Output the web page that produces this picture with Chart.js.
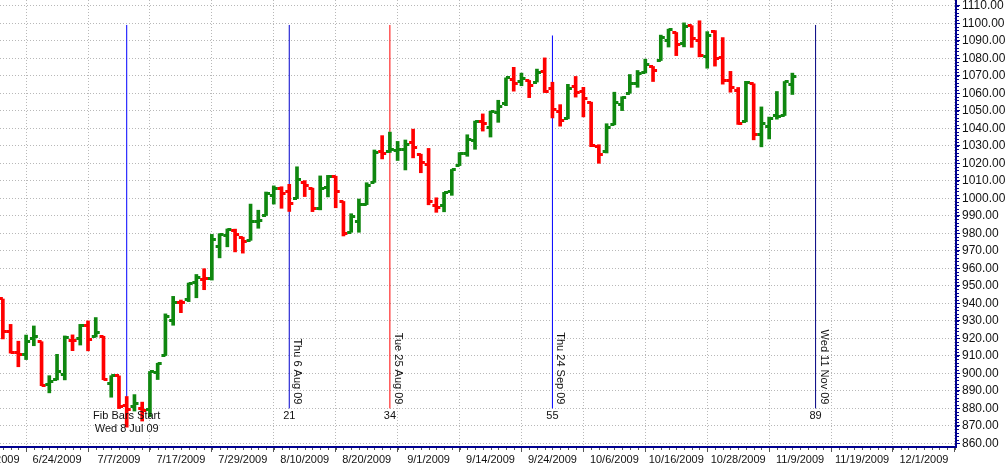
<!DOCTYPE html>
<html>
<head>
<meta charset="utf-8">
<title>Fib bars</title>
<script src="https://cdn.jsdelivr.net/npm/chart.js@4/dist/chart.umd.min.js"></script>
<style>
    html, body { margin: 0; padding: 0; background: #fff; }
    canvas { display: block; }
</style>
</head>
<body>
<canvas id="myChart" width="1005" height="467"></canvas>
<script>
// daily bars, 15 Jun 2009 .. 6 Nov 2009 (bar 0 = Wed 8 Jul 09)
const firstBar = -16;
const dates = ['6/15', '6/16', '6/17', '6/18', '6/19', '6/22', '6/23', '6/24', '6/25', '6/26',
    '6/29', '6/30', '7/1', '7/2', '7/6', '7/7', '7/8', '7/9', '7/10', '7/13',
    '7/14', '7/15', '7/16', '7/17', '7/20', '7/21', '7/22', '7/23', '7/24', '7/27',
    '7/28', '7/29', '7/30', '7/31', '8/3', '8/4', '8/5', '8/6', '8/7', '8/10',
    '8/11', '8/12', '8/13', '8/14', '8/17', '8/18', '8/19', '8/20', '8/21', '8/24',
    '8/25', '8/26', '8/27', '8/28', '8/31', '9/1', '9/2', '9/3', '9/4', '9/8',
    '9/9', '9/10', '9/11', '9/14', '9/15', '9/16', '9/17', '9/18', '9/21', '9/22',
    '9/23', '9/24', '9/25', '9/28', '9/29', '9/30', '10/1', '10/2', '10/5', '10/6',
    '10/7', '10/8', '10/9', '10/12', '10/13', '10/14', '10/15', '10/16', '10/19', '10/20',
    '10/21', '10/22', '10/23', '10/26', '10/27', '10/28', '10/29', '10/30', '11/2', '11/3',
    '11/4', '11/5', '11/6'];

const opens = [942.5, 923.7, 911.9, 910.9, 920.0, 918.1, 893.5, 896.3, 899.5, 918.8,
    919.9, 927.2, 920.8, 921.2, 894.3, 898.6, 881.9, 881.3, 880.0, 879.6,
    900.8, 910.2, 930.2, 940.6, 942.1, 952.0, 953.4, 954.1, 972.2, 978.6,
    981.5, 977.7, 976.0, 986.8, 990.2, 1001.4, 1005.4, 1004.1, 999.8, 1008.9,
    1005.8, 994.0, 1005.9, 1012.2, 998.2, 980.6, 986.9, 996.4, 1009.1, 1026.6,
    1026.6, 1027.4, 1027.8, 1031.6, 1025.2, 1019.5, 996.1, 996.1, 1003.8, 1018.7,
    1025.4, 1033.0, 1043.9, 1040.2, 1049.0, 1054.0, 1067.9, 1066.6, 1067.1, 1066.4,
    1072.7, 1062.6, 1049.5, 1045.4, 1063.7, 1061.0, 1054.9, 1029.7, 1026.9, 1042.0,
    1053.7, 1060.0, 1065.3, 1071.6, 1075.0, 1078.7, 1090.4, 1094.7, 1088.2, 1098.6,
    1090.4, 1081.0, 1095.0, 1080.4, 1067.5, 1061.8, 1043.7, 1065.4, 1036.2, 1040.9,
    1047.3, 1047.3, 1065.0];

const highs = [942.5, 928.0, 918.4, 921.9, 927.1, 918.1, 898.7, 910.9, 921.4, 922.0,
    928.0, 930.0, 931.9, 921.2, 898.7, 898.6, 886.8, 887.9, 883.6, 901.1,
    905.8, 934.0, 944.0, 941.9, 951.6, 956.5, 959.8, 979.4, 979.8, 982.5,
    982.4, 977.8, 996.7, 993.2, 1003.6, 1007.1, 1006.6, 1008.0, 1018.0, 1010.1,
    1005.8, 1012.8, 1013.1, 1012.6, 998.2, 991.2, 999.6, 1008.9, 1027.6, 1035.8,
    1037.8, 1032.5, 1033.3, 1039.5, 1025.2, 1028.5, 1000.3, 1003.4, 1016.5, 1026.1,
    1036.3, 1044.1, 1048.2, 1049.7, 1056.0, 1068.8, 1074.8, 1071.5, 1067.3, 1073.8,
    1080.2, 1066.3, 1053.5, 1065.1, 1069.6, 1063.4, 1054.9, 1030.6, 1042.6, 1060.6,
    1058.0, 1070.7, 1073.0, 1079.5, 1075.3, 1093.2, 1096.6, 1094.7, 1100.2, 1098.6,
    1101.4, 1095.2, 1095.8, 1091.8, 1072.5, 1063.3, 1066.8, 1065.4, 1052.2, 1046.4,
    1061.0, 1066.7, 1071.5];

const lows = [919.7, 911.6, 903.8, 907.9, 915.8, 893.0, 888.9, 896.3, 896.3, 913.0,
    916.2, 912.9, 920.8, 896.4, 886.4, 879.9, 869.3, 878.5, 872.8, 875.3,
    896.5, 910.2, 927.5, 934.7, 941.0, 943.2, 947.8, 953.3, 966.0, 972.3,
    969.4, 968.7, 976.0, 982.9, 990.2, 996.7, 994.3, 992.5, 999.8, 1001.0,
    992.4, 993.4, 1000.8, 994.6, 978.5, 980.6, 980.6, 996.4, 1009.1, 1022.5,
    1026.2, 1021.6, 1016.2, 1023.1, 1014.6, 996.3, 992.0, 992.3, 1001.7, 1018.7,
    1024.0, 1028.0, 1038.4, 1035.0, 1043.4, 1052.9, 1061.2, 1064.3, 1057.5, 1066.4,
    1060.4, 1045.9, 1041.2, 1045.4, 1057.8, 1046.5, 1029.5, 1020.0, 1025.9, 1042.0,
    1050.1, 1060.0, 1063.4, 1071.6, 1066.7, 1078.7, 1086.4, 1081.5, 1086.5, 1086.2,
    1080.8, 1074.3, 1075.5, 1065.2, 1060.6, 1042.2, 1043.7, 1033.4, 1029.4, 1033.9,
    1045.2, 1047.3, 1059.3];

const closes = [923.7, 912.0, 910.7, 918.4, 921.2, 893.0, 895.1, 900.9, 920.3, 918.9,
    927.2, 919.3, 923.3, 896.4, 898.7, 881.0, 879.6, 882.7, 879.1, 901.1,
    905.8, 932.7, 940.7, 940.4, 951.1, 954.6, 954.1, 976.3, 979.3, 982.2,
    979.6, 975.2, 986.8, 987.5, 1002.6, 1005.7, 1002.7, 997.1, 1010.5, 1007.1,
    994.4, 1005.8, 1012.7, 1004.1, 979.7, 989.7, 996.5, 1007.4, 1026.1, 1025.6,
    1028.0, 1028.1, 1031.0, 1028.9, 1020.6, 998.0, 994.8, 1003.2, 1016.4, 1025.4,
    1033.4, 1044.1, 1042.7, 1049.3, 1052.6, 1068.8, 1065.5, 1068.3, 1064.7, 1071.7,
    1060.9, 1050.8, 1044.4, 1063.0, 1060.6, 1057.1, 1029.9, 1025.2, 1040.5, 1054.7,
    1057.6, 1065.5, 1071.5, 1076.2, 1073.2, 1092.0, 1096.6, 1087.7, 1097.9, 1091.1,
    1081.4, 1092.9, 1079.6, 1067.0, 1063.4, 1042.6, 1066.1, 1036.2, 1042.9, 1045.4,
    1046.5, 1066.6, 1069.3];

// Fibonacci day markers
const fibBars = [0, 21, 34, 55, 89];
const fibNames = ['Fib Bars Start', '21', '34', '55', '89'];
const fibDays = ['Wed 8 Jul 09', 'Thu 6 Aug 09', 'Tue 25 Aug 09', 'Thu 24 Sep 09', 'Wed 11 Nov 09'];
const fibLow = [880, 880, 880, 880, 880];
const fibHigh = [1099, 1099, 1099, 1093, 1099];
const fibColors = ['#0000ff', '#0000cc', '#ff0000', '#0000ff', '#000080'];

// axis ticks
const xTickBars = [-17, -9, -1, 7, 15, 23, 31, 39, 47, 55, 63, 71, 79, 87, 95, 103];
const xTickLabels = ['6/12/2009', '6/24/2009', '7/7/2009', '7/17/2009', '7/29/2009', '8/10/2009',
    '8/20/2009', '9/1/2009', '9/14/2009', '9/24/2009', '10/6/2009', '10/16/2009',
    '10/28/2009', '11/9/2009', '11/19/2009', '12/1/2009'];
const yTickFirst = 860;
const yTickLast = 1110;
const yTickStep = 10;
const yMinorStep = 2;

const UP = '#0f870f';
const DOWN = '#ff0000';
const AXIS = '#000090';
const FONT = '"Liberation Sans", Arial, sans-serif';

function tickImage(color, side) {
    const c = document.createElement('canvas');
    c.width = 10;
    c.height = 3;
    const ctx = c.getContext('2d');
    ctx.fillStyle = color;
    if (side == 'left') {
        ctx.fillRect(1, 0, 4, 3);
    } else {
        ctx.fillRect(5, 0, 4, 3);
    }
    return c;
}

const imgs = {
    upL: tickImage(UP, 'left'), upR: tickImage(UP, 'right'),
    dnL: tickImage(DOWN, 'left'), dnR: tickImage(DOWN, 'right')
};

// colour: close against the previous close
const barUp = closes.map((c, k) => k == 0 ? c >= opens[0] : c >= closes[k - 1]);
const barX = dates.map((d, k) => firstBar + k);

const datasets = [];

fibBars.forEach((b, k) => {
    datasets.push({
        type: 'line',
        data: [{ x: b, y: fibLow[k] }, { x: b, y: fibHigh[k] }],
        borderColor: fibColors[k],
        borderWidth: 1,
        pointRadius: 0,
        order: 5
    });
});

datasets.push({
    type: 'bar',
    data: barX.map((x, k) => ({ x: x, y: [lows[k], highs[k]] })),
    backgroundColor: barUp.map(u => u ? UP : DOWN),
    barThickness: 3,
    order: 3
});

datasets.push({
    type: 'scatter',
    data: barX.map((x, k) => ({ x: x, y: opens[k] })),
    pointStyle: barUp.map(u => u ? imgs.upL : imgs.dnL),
    order: 1
});

datasets.push({
    type: 'scatter',
    data: barX.map((x, k) => ({ x: x, y: closes[k] })),
    pointStyle: barUp.map(u => u ? imgs.upR : imgs.dnR),
    order: 1
});

// fib labels and the small minor ticks on both axes
const fibText = {
    id: 'fibText',
    afterDraw(chart) {
        const ctx = chart.ctx;
        const xs = chart.scales.x;
        const ys = chart.scales.y;
        const area = chart.chartArea;
        ctx.save();

        ctx.strokeStyle = '#555';
        ctx.lineWidth = 1;
        ctx.beginPath();
        for (let i = Math.ceil(xs.min); i <= xs.max; i++) {
            const px = Math.round(xs.getPixelForValue(i)) + 0.5;
            ctx.moveTo(px, area.bottom + 1);
            ctx.lineTo(px, area.bottom + 3);
        }
        ctx.stroke();
        ctx.strokeStyle = AXIS;
        ctx.beginPath();
        for (let v = yTickFirst; v <= yTickLast; v += yMinorStep) {
            const py = Math.round(ys.getPixelForValue(v)) + 0.5;
            ctx.moveTo(area.right + 1, py);
            ctx.lineTo(area.right + 3, py);
        }
        ctx.stroke();

        ctx.fillStyle = '#111';
        ctx.font = '11px ' + FONT;
        fibBars.forEach((b, k) => {
            const px = xs.getPixelForValue(b);
            const py = ys.getPixelForValue(fibLow[k]);
            ctx.textAlign = 'center';
            ctx.textBaseline = 'top';
            ctx.fillText(fibNames[k], px, py + 2);
            if (k == 0) {
                ctx.fillText(fibDays[k], px, py + 15);
            } else {
                ctx.save();
                ctx.translate(px + 8, py - 4);
                ctx.rotate(Math.PI / 2);
                ctx.textAlign = 'right';
                ctx.textBaseline = 'middle';
                ctx.fillText(fibDays[k], 0, 0);
                ctx.restore();
            }
        });
        ctx.restore();
    }
};

const config = {
    type: 'bar',
    data: { datasets: datasets },
    options: {
        responsive: false,
        animation: false,
        layout: { padding: 0, autoPadding: false },
        plugins: {
            legend: { display: false },
            tooltip: { enabled: false }
        },
        scales: {
            x: {
                type: 'linear',
                min: -16.37,
                max: 107.14,
                offset: false,
                grid: {
                    color: '#b8b8b8',
                    tickColor: '#555',
                    tickLength: 5
                },
                border: { color: AXIS, width: 2, dash: [1, 2] },
                ticks: {
                    autoSkip: false,
                    maxRotation: 0,
                    padding: 1,
                    color: '#111',
                    font: { family: FONT, size: 11 },
                    callback: function (v) {
                        const k = xTickBars.indexOf(v);
                        return k >= 0 ? xTickLabels[k] : '';
                    }
                },
                afterBuildTicks: function (scale) {
                    scale.ticks = xTickBars.map(v => ({ value: v }));
                },
                afterFit: function (scale) {
                    scale.height = 20;
                    scale.paddingLeft = 0;
                    scale.paddingRight = 0;
                }
            },
            y: {
                type: 'linear',
                position: 'right',
                min: 857.97,
                max: 1113.26,
                grid: {
                    color: '#b8b8b8',
                    tickColor: AXIS,
                    tickLength: 4
                },
                border: { color: AXIS, width: 2, dash: [1, 2] },
                ticks: {
                    padding: 2,
                    color: '#111',
                    font: { family: FONT, size: 12, lineHeight: 1 },
                    callback: v => v.toFixed(2)
                },
                afterBuildTicks: function (scale) {
                    const t = [];
                    for (let v = yTickFirst; v <= yTickLast; v += yTickStep) {
                        t.push({ value: v });
                    }
                    scale.ticks = t;
                },
                afterFit: function (scale) {
                    scale.width = 49;
                    scale.paddingTop = 0;
                    scale.paddingBottom = 0;
                }
            }
        }
    },
    plugins: [fibText]
};

myChart = new Chart(document.getElementById('myChart'), config);
</script>
</body>
</html>
